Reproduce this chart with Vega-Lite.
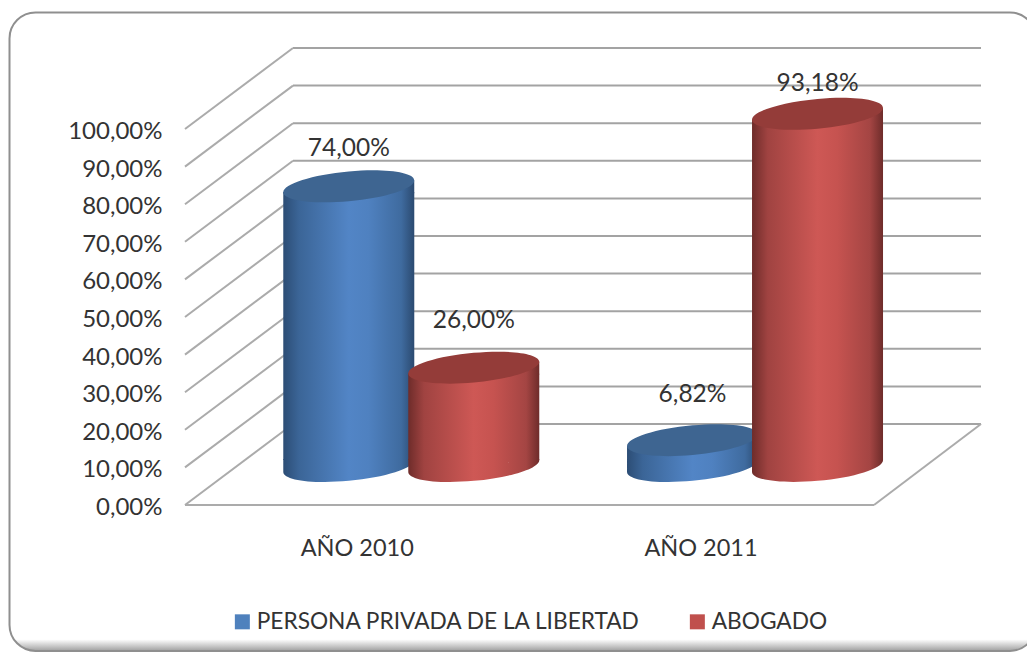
{
"$schema":"https://vega.github.io/schema/vega-lite/v6.json",
"width":1027,"height":653,"padding":0,"autosize":{"type":"none"},
"background":"#ffffff",
"config":{"view":{"stroke":null},"text":{"font":"Lato"},"axis":{"labelFont":"Lato","labelFontSize":24,"labelColor":"#333333","grid":false,"domain":false,"ticks":false,"title":null},"legend":{"labelFont":"Lato","labelFontSize":22.7,"labelColor":"#333333"}},
"datasets":{
"filas":[
{"anio":"AÑO 2010","serie":"PERSONA PRIVADA DE LA LIBERTAD","valor":74.00,"etiqueta":"74,00%"},
{"anio":"AÑO 2010","serie":"ABOGADO","valor":26.00,"etiqueta":"26,00%"},
{"anio":"AÑO 2011","serie":"PERSONA PRIVADA DE LA LIBERTAD","valor":6.82,"etiqueta":"6,82%"},
{"anio":"AÑO 2011","serie":"ABOGADO","valor":93.18,"etiqueta":"93,18%"}
],
"niveles":[{"nivel":0},{"nivel":10},{"nivel":20},{"nivel":30},{"nivel":40},{"nivel":50},{"nivel":60},{"nivel":70},{"nivel":80},{"nivel":90},{"nivel":100}]
},
"resolve":{"scale":{"x":"independent","y":"independent"},"axis":{"x":"independent","y":"independent"}},
"layer":[
{"data":{"name":"niveles"},
 "layer":[
 {"transform":[{"filter":"datum.nivel==0"}],
  "mark":{"type":"rect","cornerRadius":26,"stroke":"#8f8f8f","strokeWidth":2,"fill":{"x1":0,"y1":0,"x2":0,"y2":1,"gradient":"linear","stops":[{"offset":0,"color":"#ffffff"},{"offset":0.982,"color":"#ffffff"},{"offset":1,"color":"#a0a0a0"}]}},
  "encoding":{
   "x":{"datum":-0.5094,"type":"quantitative","scale":{"domain":[0,2],"range":[185,874]},"axis":null},
   "x2":{"datum":2.47},
   "y":{"datum":131,"type":"quantitative","scale":{"domain":[0,100],"range":[505,129]},"axis":{"orient":"left","offset":-162,"zindex":1,"labelPadding":0,"labelOffset":2.5,"values":[0,10,20,30,40,50,60,70,80,90,100],"labelExpr":"replace(format(datum.value,'.2f'),'.',',')+'%'"}},
   "y2":{"datum":-38.8}}},
 {"mark":{"type":"rule","color":"#a3a3a3","strokeWidth":2,"yOffset":-81},
  "encoding":{
   "x":{"datum":0.3135,"type":"quantitative","scale":{"domain":[0,2],"range":[185,874]},"axis":null},
   "x2":{"datum":2.3106},
   "y":{"field":"nivel","type":"quantitative","scale":{"domain":[0,100],"range":[505,129]},"axis":{"orient":"left","offset":-162,"zindex":1,"labelPadding":0,"labelOffset":2.5,"values":[0,10,20,30,40,50,60,70,80,90,100],"labelExpr":"replace(format(datum.value,'.2f'),'.',',')+'%'"}}}},
 {"mark":{"type":"rule","color":"#ababab","strokeWidth":2,"y2Offset":-81},
  "encoding":{
   "x":{"datum":0,"type":"quantitative","scale":{"domain":[0,2],"range":[185,874]},"axis":null},
   "x2":{"datum":0.3135},
   "y":{"field":"nivel","type":"quantitative","scale":{"domain":[0,100],"range":[505,129]},
    "axis":{"orient":"left","offset":-162,"zindex":1,"labelPadding":0,"labelOffset":2.5,"values":[0,10,20,30,40,50,60,70,80,90,100],"labelExpr":"replace(format(datum.value,'.2f'),'.',',')+'%'"}},
   "y2":{"field":"nivel"}}},
 {"transform":[{"filter":"datum.nivel==0"}],
  "mark":{"type":"rule","color":"#ababab","strokeWidth":2},
  "encoding":{
   "x":{"datum":0,"type":"quantitative","scale":{"domain":[0,2],"range":[185,874]},"axis":null},
   "x2":{"datum":2},
   "y":{"field":"nivel","type":"quantitative","scale":{"domain":[0,100],"range":[505,129]},"axis":{"orient":"left","offset":-162,"zindex":1,"labelPadding":0,"labelOffset":2.5,"values":[0,10,20,30,40,50,60,70,80,90,100],"labelExpr":"replace(format(datum.value,'.2f'),'.',',')+'%'"}}}},
 {"transform":[{"filter":"datum.nivel==0"}],
  "mark":{"type":"rule","color":"#ababab","strokeWidth":2,"y2Offset":-81},
  "encoding":{
   "x":{"datum":2,"type":"quantitative","scale":{"domain":[0,2],"range":[185,874]},"axis":null},
   "x2":{"datum":2.3106},
   "y":{"field":"nivel","type":"quantitative","scale":{"domain":[0,100],"range":[505,129]},"axis":{"orient":"left","offset":-162,"zindex":1,"labelPadding":0,"labelOffset":2.5,"values":[0,10,20,30,40,50,60,70,80,90,100],"labelExpr":"replace(format(datum.value,'.2f'),'.',',')+'%'"}},
   "y2":{"field":"nivel"}}}
 ]},
{"data":{"name":"filas"},
 "encoding":{
  "x":{"field":"anio","type":"nominal","scale":{"domain":["AÑO 2010","AÑO 2011"],"range":[239.4,926.9],"paddingInner":0,"paddingOuter":0},
   "axis":{"orient":"bottom","offset":-117,"zindex":1,"labelPadding":0,"labelAngle":0,"labelOffset":-54,"labelFontSize":23.5}},
  "xOffset":{"field":"serie","type":"nominal","scale":{"domain":["PERSONA PRIVADA DE LA LIBERTAD","ABOGADO"],"paddingInner":0,"paddingOuter":0.375}},
  "y":{"field":"valor","type":"quantitative","scale":{"domain":[0,100],"range":[466,88]},"axis":null}
 },
 "layer":[
 {"transform":[{"filter":"datum.serie=='PERSONA PRIVADA DE LA LIBERTAD'"}],
  "layer":[
  {"mark":{"type":"bar","width":131,"yOffset":6,"y2Offset":-6,"fill":{"x1":0,"y1":0,"x2":1,"y2":0,"gradient":"linear","stops":[{"offset":0,"color":"#2c4d75"},{"offset":0.12,"color":"#3b6597"},{"offset":0.5,"color":"#5285c6"},{"offset":0.65,"color":"#4f81c0"},{"offset":0.9,"color":"#3f6b9f"},{"offset":1,"color":"#2b4a70"}]}},
   "encoding":{"y2":{"datum":0}}},
  {"mark":{"type":"point","filled":true,"opacity":1,"stroke":null,"size":17161,"shape":"M-1,0.09 A1.004,0.226 -5.4 1 1 1,-0.09 A1.004,0.226 -5.4 1 1 -1,0.09 Z M-1,-0.105 L1,-0.105 L1,-0.09 L-1,0.09 Z","fill":{"x1":0,"y1":0,"x2":1,"y2":0,"gradient":"linear","stops":[{"offset":0,"color":"#2c4d75"},{"offset":0.12,"color":"#3b6597"},{"offset":0.5,"color":"#5285c6"},{"offset":0.65,"color":"#4f81c0"},{"offset":0.9,"color":"#3f6b9f"},{"offset":1,"color":"#2b4a70"}]}},
   "encoding":{"y":{"datum":0,"type":"quantitative"}}},
  {"mark":{"type":"point","filled":true,"opacity":1,"stroke":null,"size":17161,"shape":"M-1,0.09 L1,-0.09 L1,0.105 L-1,0.105 Z","fill":{"x1":0,"y1":0,"x2":1,"y2":0,"gradient":"linear","stops":[{"offset":0,"color":"#2c4d75"},{"offset":0.12,"color":"#3b6597"},{"offset":0.5,"color":"#5285c6"},{"offset":0.65,"color":"#4f81c0"},{"offset":0.9,"color":"#3f6b9f"},{"offset":1,"color":"#2b4a70"}]}}},
  {"mark":{"type":"point","filled":true,"opacity":1,"stroke":null,"fill":"#3e6591","size":17161,"shape":"M-1,0.09 A1.004,0.226 -5.4 1 1 1,-0.09 A1.004,0.226 -5.4 1 1 -1,0.09 Z"}}
  ]},
 {"transform":[{"filter":"datum.serie=='ABOGADO'"}],
  "layer":[
  {"mark":{"type":"bar","width":131,"yOffset":6,"y2Offset":-6,"fill":{"x1":0,"y1":0,"x2":1,"y2":0,"gradient":"linear","stops":[{"offset":0,"color":"#6e2c2a"},{"offset":0.12,"color":"#a04341"},{"offset":0.5,"color":"#ce5855"},{"offset":0.65,"color":"#c65350"},{"offset":0.9,"color":"#a44543"},{"offset":1,"color":"#6e2c2a"}]}},
   "encoding":{"y2":{"datum":0}}},
  {"mark":{"type":"point","filled":true,"opacity":1,"stroke":null,"size":17161,"shape":"M-1,0.09 A1.004,0.226 -5.4 1 1 1,-0.09 A1.004,0.226 -5.4 1 1 -1,0.09 Z M-1,-0.105 L1,-0.105 L1,-0.09 L-1,0.09 Z","fill":{"x1":0,"y1":0,"x2":1,"y2":0,"gradient":"linear","stops":[{"offset":0,"color":"#6e2c2a"},{"offset":0.12,"color":"#a04341"},{"offset":0.5,"color":"#ce5855"},{"offset":0.65,"color":"#c65350"},{"offset":0.9,"color":"#a44543"},{"offset":1,"color":"#6e2c2a"}]}},
   "encoding":{"y":{"datum":0,"type":"quantitative"}}},
  {"mark":{"type":"point","filled":true,"opacity":1,"stroke":null,"size":17161,"shape":"M-1,0.09 L1,-0.09 L1,0.105 L-1,0.105 Z","fill":{"x1":0,"y1":0,"x2":1,"y2":0,"gradient":"linear","stops":[{"offset":0,"color":"#6e2c2a"},{"offset":0.12,"color":"#a04341"},{"offset":0.5,"color":"#ce5855"},{"offset":0.65,"color":"#c65350"},{"offset":0.9,"color":"#a44543"},{"offset":1,"color":"#6e2c2a"}]}}},
  {"mark":{"type":"point","filled":true,"opacity":1,"stroke":null,"fill":"#943c39","size":17161,"shape":"M-1,0.09 A1.004,0.226 -5.4 1 1 1,-0.09 A1.004,0.226 -5.4 1 1 -1,0.09 Z"}}
  ]},
 {"mark":{"type":"text","font":"Lato","fontSize":24.5,"color":"#333333","dy":{"expr":"datum.valor>90?-30:datum.valor>70?-37:datum.valor<10?-45:-47"}},
  "encoding":{"text":{"field":"etiqueta"}}},
 {"mark":{"type":"point","filled":true,"opacity":1,"size":0},
  "encoding":{"color":{"field":"serie","type":"nominal","scale":{"domain":["PERSONA PRIVADA DE LA LIBERTAD","ABOGADO"],"range":["#4f81bd","#c0504d"]},
   "legend":{"title":null,"orient":"none","legendX":231,"legendY":610,"direction":"horizontal","columns":2,"symbolType":"square","symbolSize":225,"symbolStrokeWidth":0,"labelLimit":500,"columnPadding":44,"padding":0,"labelOffset":3}}}}
 ]}
]
}
